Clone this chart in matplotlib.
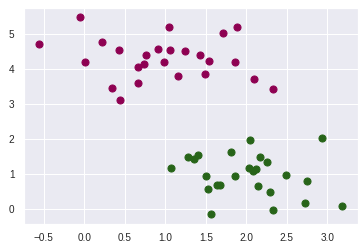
import numpy as np
import matplotlib
matplotlib.use("Agg")
import matplotlib.pyplot as plt
import seaborn as sns

# ---------- Data ----------
x_purple = [-0.56, -0.05, 0.01, 0.22, 0.43, 0.34, 0.44, 0.66, 0.66, 0.74,
            0.76, 0.91, 0.99, 1.05, 1.06, 1.16, 1.24, 1.43, 1.54, 1.49,
            1.71, 1.89, 1.86, 2.09, 2.33]
y_purple = [4.71, 5.49, 4.20, 4.79, 4.55, 3.47, 3.13, 3.61, 4.06, 4.14,
            4.42, 4.57, 4.21, 5.20, 4.54, 3.81, 4.52, 4.40, 4.23, 3.87,
            5.05, 5.21, 4.20, 3.73, 3.45]

x_green = [1.07, 1.28, 1.35, 1.40, 1.50, 1.53, 1.56, 1.64, 1.67, 1.81,
           1.86, 2.05, 2.03, 2.08, 2.12, 2.17, 2.15, 2.26, 2.29, 2.33,
           2.49, 2.75, 2.73, 2.94, 3.18]
y_green = [1.19, 1.49, 1.45, 1.54, 0.94, 0.57, -0.13, 0.69, 0.69, 1.65,
           0.94, 1.99, 1.17, 1.10, 1.16, 1.49, 0.67, 1.34, 0.49, -0.01,
           0.99, 0.81, 0.17, 2.05, 0.10]

# ---------- Figure ----------
sns.set()
plt.rcParams['font.family'] = ['Liberation Sans', 'DejaVu Sans']
W, H = 364, 251
fig = plt.figure(figsize=(W / 72, H / 72), dpi=72)
ax = fig.add_axes([24 / W, (H - 223.7) / H, (357.7 - 24) / W, (223.7 - 8) / H])

cmap = plt.get_cmap("PiYG")
ax.scatter(x_purple, y_purple, s=50, color=cmap(0.0))
ax.scatter(x_green, y_green, s=50, color=cmap(1.0))

ax.set_xlim(-0.744, 3.375)
ax.set_ylim(-0.41, 5.75)
ax.set_xticks([-0.5, 0.0, 0.5, 1.0, 1.5, 2.0, 2.5, 3.0])
ax.set_yticks([0, 1, 2, 3, 4, 5])
ax.tick_params(labelsize=10)

fig.savefig("out.png", dpi=72)
